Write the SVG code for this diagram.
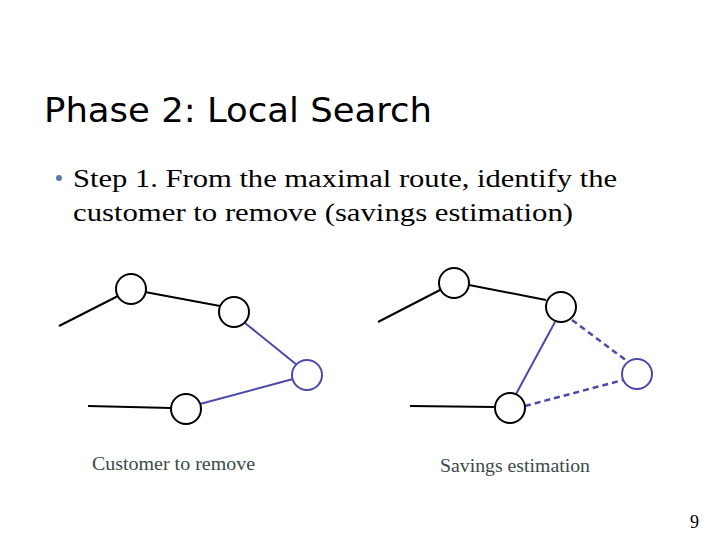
<svg xmlns="http://www.w3.org/2000/svg" width="720" height="540" viewBox="0 0 720 540">
<style>
.n{fill:#fff;stroke:#000;stroke-width:2}
.nb{fill:#fff;stroke:#4a4aa8;stroke-width:2}
.k{stroke:#000;stroke-width:2;fill:none}
.b{stroke:#4a4aa8;stroke-width:2;fill:none}
.d{stroke:#4a4aa8;stroke-width:2.5;fill:none;stroke-dasharray:6,4}
.lbl{font-family:"Liberation Serif",serif;font-size:18px;fill:#3a4a4a}
</style>
<rect width="720" height="540" fill="#fff"/>
<text x="44" y="122" font-family="DejaVu Sans,sans-serif" font-size="34" fill="#000" textLength="388" lengthAdjust="spacingAndGlyphs">Phase 2: Local Search</text>
<circle cx="59" cy="178" r="3" fill="#5a7aa8"/>
<text font-family="Liberation Serif,serif" font-size="26" fill="#000"><tspan x="73" y="187" textLength="544" lengthAdjust="spacingAndGlyphs">Step 1. From the maximal route, identify the</tspan><tspan x="73" y="221" textLength="500" lengthAdjust="spacingAndGlyphs">customer to remove (savings estimation)</tspan></text>
<g id="connectors">
<line class="k" x1="59" y1="326" x2="118" y2="296"/>
<line class="k" x1="145" y1="292" x2="220" y2="306"/>
<line class="b" x1="245" y1="323" x2="297" y2="365"/>
<line class="b" x1="200" y1="404" x2="293" y2="379"/>
<line class="k" x1="88" y1="406" x2="171" y2="408"/>
<line class="k" x1="378" y1="322" x2="440" y2="290"/>
<line class="k" x1="469" y1="285" x2="546" y2="300"/>
<line class="d" x1="572" y1="320" x2="627" y2="361"/>
<line class="d" x1="525" y1="406" x2="623" y2="380"/>
<line class="b" x1="555" y1="322" x2="516" y2="394"/>
<line class="k" x1="410" y1="406" x2="495" y2="407"/>
</g>
<g id="A"><circle class="n" cx="131" cy="289" r="15"/></g>
<g id="B"><circle class="n" cx="234" cy="312" r="15"/></g>
<g id="C"><circle class="nb" cx="307" cy="375" r="15"/></g>
<g id="D"><circle class="n" cx="186" cy="409" r="15"/></g>
<g id="E"><circle class="n" cx="454" cy="283" r="15"/></g>
<g id="F"><circle class="n" cx="561" cy="307" r="15"/></g>
<g id="G"><circle class="nb" cx="637" cy="374" r="15"/></g>
<g id="H"><circle class="n" cx="510" cy="408" r="15"/></g>
<text class="lbl" x="92" y="470" textLength="163" lengthAdjust="spacingAndGlyphs">Customer to remove</text>
<text class="lbl" x="440" y="472" textLength="150" lengthAdjust="spacingAndGlyphs">Savings estimation</text>
<text x="690" y="528" font-family="Liberation Serif,serif" font-size="18" fill="#000">9</text>
</svg>
